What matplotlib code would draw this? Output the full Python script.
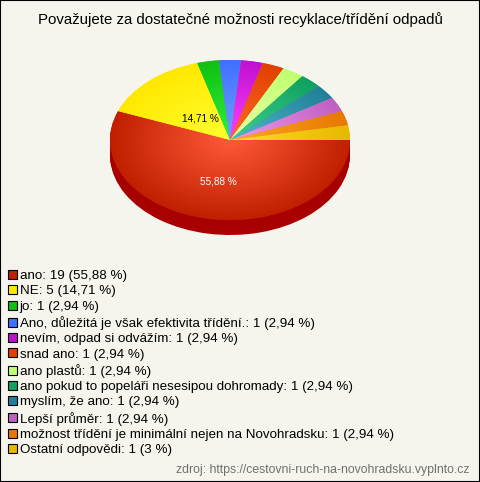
import numpy as np
import matplotlib
matplotlib.use("Agg")
import matplotlib.pyplot as plt
from matplotlib.patches import Patch, Rectangle
from matplotlib.colors import to_rgb

plt.rcParams['font.family'] = ['Liberation Sans', 'DejaVu Sans']

title = "Považujete za dostatečné možnosti recyklace/třídění odpadů"
categories = ["ano", "NE", "jo", "Ano, důležitá je však efektivita třídění.", "nevím, odpad si odvážím",
              "snad ano", "ano plastů", "ano pokud to popeláři nesesipou dohromady", "myslím, že ano",
              "Lepší průměr", "možnost třídění je minimální nejen na Novohradsku", "Ostatní odpovědi"]
counts = [19, 5, 1, 1, 1, 1, 1, 1, 1, 1, 1, 1]
percents = ["55,88", "14,71", "2,94", "2,94", "2,94", "2,94", "2,94", "2,94", "2,94", "2,94", "2,94", "3"]
shown_labels = {0: "55,88 %", 1: "14,71 %"}
label_radius = {0: 0.53, 1: 0.36}
source = "zdroj: https://cestovni-ruch-na-novohradsku.vyplnto.cz"

edge_cols = ["#c02000", "#ffe800", "#10c010", "#4070ff", "#c010d0", "#e04000",
             "#c0ff70", "#10a060", "#208098", "#c060c0", "#e87800", "#e8b800"]
mid_cols = ["#ff5a3a", "#ffff30", "#30f040", "#70a0ff", "#ff40ff", "#ff6a28",
            "#eaffa8", "#40d090", "#50b8c8", "#f098f0", "#ffa828", "#ffdc28"]
BG = "#f5f5ed"
W, H = 480, 482
cx, cy, rx, ry, depth = 230, 140, 120, 80, 15

fig = plt.figure(figsize=(W/100, H/100), dpi=100, facecolor=BG)
ax = fig.add_axes([0, 0, 1, 1])

# extruded side of the front slice
for d in np.arange(depth, 0, -1):
    ax.pie(counts[:1] + [sum(counts[1:])], radius=1, center=(0, -d/ry), startangle=0, counterclock=False,
           colors=["#a80000", "none"], wedgeprops=dict(linewidth=0, antialiased=True))

wedges, _ = ax.pie(counts, radius=1, startangle=0, counterclock=False,
                   colors=edge_cols, wedgeprops=dict(linewidth=0))

n = 500
yy, xx = np.mgrid[1:-1:n*1j, -1:1:n*1j]
rr = np.clip(np.hypot(xx, yy), 0, 1)[..., None]
for w, e, m in zip(wedges, edge_cols, mid_cols):
    img = np.array(to_rgb(m)) * (1 - rr) + np.array(to_rgb(e)) * rr
    im = ax.imshow(img, extent=[-1, 1, -1, 1], aspect='auto', zorder=w.get_zorder() + 0.1)
    im.set_clip_path(w)

# value labels placed from the slice geometry
total = sum(counts)
start = 0.0
for i, c in enumerate(counts):
    if i in shown_labels:
        a = np.deg2rad(-(start + c/2) * 360 / total)
        r = label_radius[i]
        ax.text(r*np.cos(a), r*np.sin(a), shown_labels[i],
                ha='center', va='center', fontsize=7.2,
                color='white' if i == 0 else 'black', zorder=10)
    start += c

ax.set_aspect('auto')
ax.set_xlim(-cx/rx, (W-cx)/rx)
ax.set_ylim((cy-H)/ry, cy/ry)
ax.axis('off')

fig.text(0.5 + 0.5/W, 1-20/H, title, ha='center', va='center', fontsize=10.85, color='black')

handles = [Patch(facecolor=e, edgecolor='black', linewidth=0.8) for e in edge_cols]
labels = [f"{c}: {k} ({p} %)" for c, k, p in zip(categories, counts, percents)]
leg = fig.legend(handles, labels, loc='upper left', bbox_to_anchor=(3/W, 1-264.5/H), frameon=False,
                 fontsize=9.6, handlelength=0.66, handleheight=0.66, handletextpad=0.2,
                 labelspacing=0.24, borderpad=0.4, borderaxespad=0, labelcolor='black')

fig.text(1-10/W, 1-470/H, source, ha='right', va='center', fontsize=8.8, color='#707070')

fig.add_artist(Rectangle((0, 0), 1, 1, transform=fig.transFigure, fill=False, edgecolor='black', linewidth=1.5))
fig.savefig("out.png", dpi=100, facecolor=BG)
